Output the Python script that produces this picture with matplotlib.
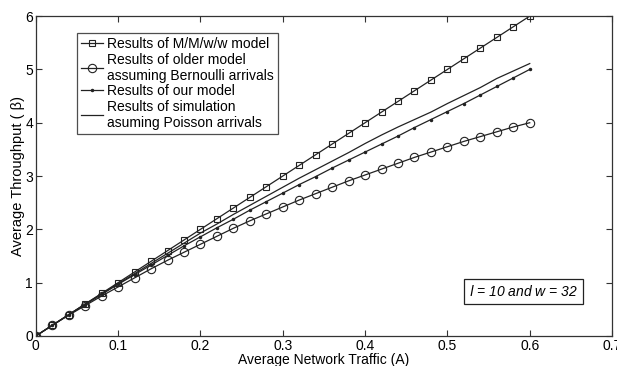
import numpy as np
import matplotlib
matplotlib.use("Agg")
import matplotlib.pyplot as plt

plt.rcParams['font.family'] = ['Liberation Sans', 'DejaVu Sans']

traffic = [0.00, 0.02, 0.04, 0.06, 0.08, 0.10, 0.12, 0.14, 0.16, 0.18, 0.20,
           0.22, 0.24, 0.26, 0.28, 0.30, 0.32, 0.34, 0.36, 0.38, 0.40,
           0.42, 0.44, 0.46, 0.48, 0.50, 0.52, 0.54, 0.56, 0.58, 0.60]
mmww = [0.0, 0.2, 0.4, 0.6, 0.8, 1.0, 1.2, 1.4, 1.6, 1.8, 2.0,
        2.2, 2.4, 2.6, 2.8, 3.0, 3.2, 3.4, 3.6, 3.8, 4.0,
        4.2, 4.4, 4.6, 4.8, 5.0, 5.2, 5.4, 5.6, 5.8, 6.0]
older = [0.0, 0.20, 0.39, 0.57, 0.75, 0.92, 1.09, 1.26, 1.42, 1.57, 1.72,
         1.87, 2.02, 2.16, 2.29, 2.42, 2.55, 2.67, 2.79, 2.91, 3.02,
         3.13, 3.24, 3.35, 3.45, 3.55, 3.65, 3.74, 3.83, 3.92, 4.00]
ours = [0.0, 0.20, 0.40, 0.59, 0.78, 0.97, 1.15, 1.33, 1.51, 1.69, 1.86,
        2.03, 2.19, 2.36, 2.52, 2.68, 2.84, 2.99, 3.15, 3.30, 3.45,
        3.60, 3.75, 3.91, 4.06, 4.21, 4.36, 4.52, 4.68, 4.84, 5.00]
simulation = [0.0, 0.20, 0.40, 0.60, 0.79, 0.98, 1.17, 1.36, 1.55, 1.74, 1.93,
              2.10, 2.28, 2.45, 2.62, 2.79, 2.96, 3.12, 3.28, 3.44, 3.61,
              3.77, 3.92, 4.06, 4.20, 4.36, 4.51, 4.66, 4.83, 4.97, 5.11]

xticks = [0, 0.1, 0.2, 0.3, 0.4, 0.5, 0.6, 0.7]
xticklabels = ['0', '0.1', '0.2', '0.3', '0.4', '0.5', '0.6', '0.7']
yticks = [0, 1, 2, 3, 4, 5, 6]

fig = plt.figure(figsize=(6.17, 3.66), dpi=100)
ax = fig.add_axes([0.058, 0.082, 0.934, 0.874])

lc = '#222222'
ax.plot(traffic, mmww, color=lc, lw=0.9, marker='s', markersize=5,
        markerfacecolor='none', markeredgecolor=lc, markeredgewidth=0.8,
        label='Results of M/M/w/w model')
ax.plot(traffic, older, color=lc, lw=0.9, marker='o', markersize=6,
        markerfacecolor='none', markeredgecolor=lc, markeredgewidth=0.8,
        label='Results of older model\nassuming Bernoulli arrivals')
ax.plot(traffic, ours, color=lc, lw=0.9, marker='.', markersize=3,
        label='Results of our model')
ax.plot(traffic, simulation, color=lc, lw=0.9,
        label='Results of simulation\nasuming Poisson arrivals')

ax.set_xlim(0, 0.7)
ax.set_ylim(0, 6)
ax.set_xticks(xticks)
ax.set_xticklabels(xticklabels)
ax.set_yticks(yticks)
ax.tick_params(direction='in', top=True, right=True, length=4,
               labelsize=10, color='#333333', pad=2)
for s in ax.spines.values():
    s.set_color('#333333')
    s.set_linewidth(0.9)

ax.set_xlabel('Average Network Traffic (A)', fontsize=10, labelpad=0)
ax.set_ylabel('Average Throughput ( β)', fontsize=10.5, labelpad=0)

leg = ax.legend(loc='upper left', bbox_to_anchor=(0.071, 0.947), fontsize=10,
                frameon=True, fancybox=False, edgecolor='#222222',
                handlelength=1.6, handletextpad=0.3, borderpad=0.3,
                labelspacing=0.1, borderaxespad=0)
leg.get_frame().set_linewidth(0.9)

ax.text(0.592, 0.83, r'$\it{l}$ = 10 and w = 32', fontsize=10, style='italic',
        ha='center', va='center',
        bbox=dict(boxstyle='square,pad=0.35', facecolor='white',
                  edgecolor='#222222', linewidth=0.9))

fig.savefig('out.png', dpi=100)
